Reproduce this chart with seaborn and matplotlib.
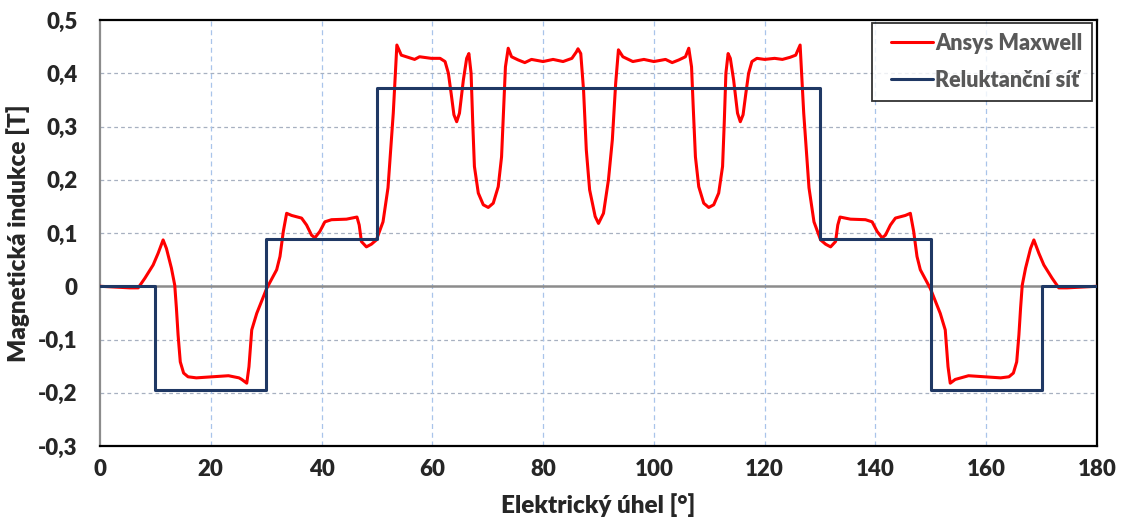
import numpy as np
import pandas as pd
import seaborn as sns
import matplotlib.pyplot as plt
from matplotlib.ticker import FuncFormatter, MultipleLocator
from matplotlib.legend_handler import HandlerLine2D

# Ansys Maxwell (angle [deg], B [T])
maxwell_angle = [0, 5.4, 6.9, 8.1, 9.6, 10.5, 11.4, 12.0, 12.9, 13.5, 13.8, 14.1, 14.5,
                 15.1, 15.9, 17.4, 20.2, 23.2, 25.1, 25.6, 26.5, 26.9, 27.4, 28.3,
                 30.1, 31.9, 32.5, 33.1, 33.7, 34.6, 36.4, 37.3, 38.2, 38.8, 39.7,
                 40.6, 41.8, 44.5, 46.4, 46.8, 47.2, 48.1, 49.0, 49.9, 51.1, 52.0,
                 52.95, 53.6, 54.4, 56.8, 57.7, 59.8, 61.4, 62.3, 62.9, 63.4, 63.9,
                 64.4, 64.9, 65.6, 66.2, 66.6, 67.0, 67.3, 67.6, 68.3, 69.2, 70.1,
                 71.0, 71.9, 72.5, 72.9, 73.2, 73.7, 74.3, 75.5, 76.7, 77.9, 80.0,
                 81.8, 83.6, 85.2, 86.0, 86.3, 86.8, 87.3, 87.8, 88.4, 89.4, 90.0,
                 90.9, 91.8, 92.5, 93.1, 93.6, 94.4, 96.2, 98.2, 100.0, 102.1, 103.3,
                 104.5, 105.7, 106.3, 106.8, 107.1, 107.5, 108.1, 109.0, 109.9, 110.8,
                 111.7, 112.4, 112.7, 113.0, 113.4, 113.8, 114.4, 115.1, 115.6, 116.1,
                 116.6, 117.1, 117.7, 118.6, 120.0, 121.8, 123.2, 124.6, 125.6, 126.4,
                 127.05, 128.0, 128.9, 130.1, 131.0, 131.9, 132.8, 133.2, 133.6, 135.5,
                 138.2, 139.4, 140.3, 141.2, 141.8, 142.7, 143.6, 145.4, 146.3, 146.9,
                 147.5, 148.1, 149.9, 151.7, 152.6, 153.1, 153.5, 154.4, 156.8, 159.8,
                 162.6, 164.1, 164.9, 165.5, 165.9, 166.2, 166.5, 167.1, 168.0, 168.6,
                 169.5, 170.4, 171.9, 173.1, 174.6, 180]
maxwell_b = [0, -0.003, -0.003, 0.015, 0.040, 0.062, 0.087, 0.071, 0.034, 0.002, -0.041,
             -0.091, -0.142, -0.163, -0.170, -0.172, -0.170, -0.168, -0.172, -0.175,
             -0.182, -0.151, -0.082, -0.051, -0.004, 0.031, 0.056, 0.103, 0.137, 0.133,
             0.128, 0.115, 0.096, 0.091, 0.103, 0.121, 0.125, 0.126, 0.130, 0.115,
             0.084, 0.074, 0.079, 0.087, 0.121, 0.185, 0.325, 0.453, 0.434, 0.426,
             0.431, 0.428, 0.428, 0.422, 0.400, 0.362, 0.322, 0.309, 0.325, 0.387,
             0.428, 0.437, 0.400, 0.306, 0.225, 0.175, 0.153, 0.148, 0.156, 0.187,
             0.243, 0.337, 0.412, 0.447, 0.431, 0.425, 0.420, 0.426, 0.422, 0.426,
             0.422, 0.428, 0.440, 0.446, 0.437, 0.369, 0.256, 0.181, 0.131, 0.118,
             0.137, 0.200, 0.275, 0.381, 0.444, 0.431, 0.422, 0.426, 0.422, 0.426,
             0.420, 0.425, 0.431, 0.447, 0.412, 0.337, 0.243, 0.187, 0.156, 0.148,
             0.153, 0.175, 0.225, 0.306, 0.400, 0.437, 0.428, 0.387, 0.325, 0.309,
             0.322, 0.362, 0.400, 0.422, 0.428, 0.426, 0.428, 0.426, 0.430, 0.434,
             0.453, 0.325, 0.185, 0.121, 0.087, 0.079, 0.074, 0.084, 0.115, 0.130,
             0.126, 0.125, 0.121, 0.103, 0.091, 0.096, 0.115, 0.128, 0.133, 0.137,
             0.103, 0.056, 0.031, -0.004, -0.051, -0.082, -0.151, -0.182, -0.175,
             -0.168, -0.170, -0.172, -0.170, -0.163, -0.142, -0.091, -0.041, 0.002,
             0.034, 0.071, 0.087, 0.062, 0.040, 0.015, -0.003, -0.003, 0]

# reluktancni sit - step values
network_angle = [0, 10, 30, 50, 130, 150, 170, 180]
network_b = [0, -0.195, 0.088, 0.372, 0.088, -0.195, 0, 0]

df_m = pd.DataFrame({"angle": maxwell_angle, "B": maxwell_b})
df_n = pd.DataFrame({"angle": network_angle, "B": network_b})

sns.set_theme(style="white")
plt.rcParams['font.family'] = ['Lato', 'DejaVu Sans']


class ShortLine(HandlerLine2D):
    # legend line drawn only over the right part of the handle box
    def create_artists(self, legend, orig_handle, xdescent, ydescent, width,
                       height, fontsize, trans):
        arts = super().create_artists(legend, orig_handle, xdescent, ydescent,
                                      width, height, fontsize, trans)
        a = arts[0]
        xd = a.get_xdata()
        a.set_xdata([xd[-1] - 30, xd[-1]])
        a.set_ydata([a.get_ydata()[0]] * 2)
        return arts


fig = plt.figure(figsize=(11.27, 5.17), dpi=100)
ax = fig.add_axes([0.0887, 0.1373, 0.8847, 0.824])

ax.axhline(0, color="#8c8c8c", lw=1.8, zorder=1)
sns.lineplot(data=df_m, x="angle", y="B", ax=ax, color="#ff0000", lw=2.2,
             sort=False, estimator=None, label="Ansys Maxwell", zorder=3)
sns.lineplot(data=df_n, x="angle", y="B", ax=ax, color="#1f3864", lw=2.2,
             drawstyle="steps-post", estimator=None, label="Reluktanční síť", zorder=4)

ax.set_xlim(0, 180)
ax.set_ylim(-0.3, 0.5)
ax.xaxis.set_major_locator(MultipleLocator(20))
ax.yaxis.set_major_locator(MultipleLocator(0.1))
fmt = FuncFormatter(lambda v, p: "0" if abs(v) < 1e-9 else f"{v:.1f}".replace(".", ","))
ax.yaxis.set_major_formatter(fmt)

for y in np.arange(-0.2, 0.45, 0.1):
    if abs(y) > 1e-6:
        ax.axhline(y, color="#a7b0c0", lw=0.9, ls=(0, (3, 2.5)), zorder=0)
for x in range(20, 180, 20):
    ax.axvline(x, color="#a9c4ea", lw=0.9, ls=(0, (4, 3)), zorder=0)

for s in ["top", "right", "bottom"]:
    ax.spines[s].set_color("black")
    ax.spines[s].set_linewidth(1.6)
ax.spines["left"].set_color("#8c8c8c")
ax.spines["left"].set_linewidth(1.6)

ax.tick_params(axis="x", labelsize=16, length=0, pad=9)
ax.tick_params(axis="y", labelsize=16, length=0, pad=16)
for lab in ax.get_xticklabels() + ax.get_yticklabels():
    lab.set_fontweight("heavy")
ax.set_xlabel("Elektrický úhel [°]", fontsize=17.5, fontweight="heavy", labelpad=10)
ax.set_ylabel("Magnetická indukce [T]", fontsize=17.5, fontweight="heavy", labelpad=6)

leg = ax.legend(loc="upper right", bbox_to_anchor=(0.995, 0.993), fontsize=15.5,
                frameon=True, fancybox=False, edgecolor="black", handlelength=2.4,
                handletextpad=0.1, borderaxespad=0, borderpad=0.45,
                labelspacing=0.75, handler_map={plt.Line2D: ShortLine()})
leg.get_frame().set_linewidth(1.3)
for t in leg.get_texts():
    t.set_color("#595959")
    t.set_fontweight("heavy")

fig.savefig("out.png", dpi=100)
